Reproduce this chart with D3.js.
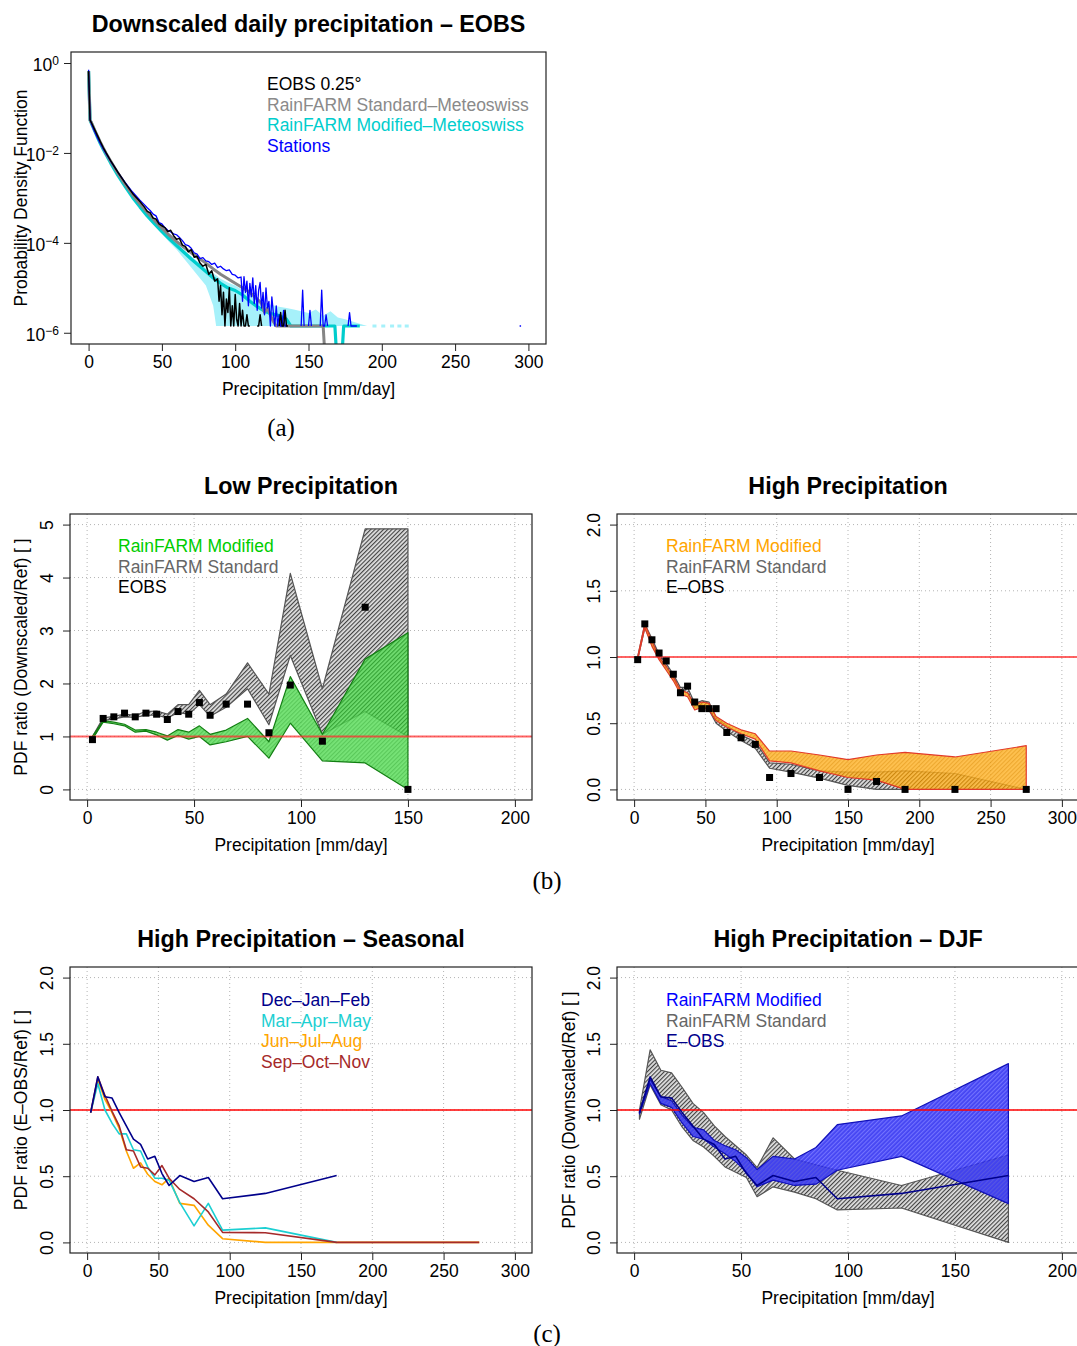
<!DOCTYPE html>
<html>
<head>
<meta charset="utf-8">
<script src="https://cdn.jsdelivr.net/npm/d3@7"></script>
<style>
  body { margin: 0; background: #fff; }
  svg text { font-family: "Liberation Sans", Arial, Helvetica, sans-serif; }
</style>
</head>
<body>
<div id="figure"></div>
<script>
'use strict';

// ---------------- (a) daily precipitation PDF, log10 values ----------------
const eobsX = [0,1,2,4,6,8,10,12,15,20,25,30,35,38,40,42,44,46,48,50,52,54,56,58,60,62,64,66,68,70,72,74,76,78,80,82,84,86,88,
  89,90,91,92,93,94,95,96,97,98,99,100,101,102,103,104,105,106,107,108,109,110,111,115,116,117,118,119,130,131,132,133,134,135,136];
const eobsLog = [-0.18,-1.27,-1.33,-1.47,-1.61,-1.75,-1.88,-2.00,-2.17,-2.43,-2.67,-2.90,-3.08,-3.20,-3.30,-3.33,-3.45,-3.47,-3.58,-3.62,
  -3.66,-3.75,-3.72,-3.84,-3.92,-3.90,-4.05,-4.08,-4.20,-4.15,-4.32,-4.30,-4.45,-4.52,-4.48,-4.70,-4.62,-4.85,-4.80,
  -5.30,-4.95,-5.60,-5.10,-5.85,-5.25,-5.55,-5.00,-5.85,-5.40,-5.85,-5.15,-5.70,-5.85,-5.35,-5.85,-5.50,-5.85,-5.85,-5.60,-5.85,-5.85,null,
  -5.85,-5.85,-5.60,-5.85,null,-5.85,-5.55,-5.85,-5.85,-5.50,-5.85,-5.85];

const stationX = [0,1,2,4,6,8,10,12,15,20,25,30,35,38,40,42,44,46,48,50,52,54,56,58,60,62,64,66,68,70,72,74,76,78,80,82,84,86,88,90,
  92,94,96,98,100,102,104,105,106,107,108,109,110,111,112,113,114,115,116,117,118,119,120,121,122,123,124,125,126,127,128,129,130,
  131,132,133,134,135,136,145,146,147,148,150,151,152,153,158,159,160,161,162,163,164,177,178,179,180,181,182,183,184,294,295];
const stationLog = [-0.15,-1.25,-1.36,-1.52,-1.66,-1.79,-1.91,-2.02,-2.18,-2.43,-2.66,-2.87,-3.05,-3.15,-3.22,-3.28,-3.36,-3.40,-3.55,-3.58,
  -3.66,-3.72,-3.76,-3.80,-3.82,-3.88,-3.95,-4.04,-4.06,-4.12,-4.22,-4.25,-4.35,-4.33,-4.40,-4.42,-4.48,-4.45,-4.55,-4.52,
  -4.58,-4.62,-4.60,-4.70,-4.72,-4.78,-4.76,-5.30,-4.75,-5.10,-4.85,-5.40,-4.90,-5.20,-4.78,-5.35,-4.95,-5.50,-5.05,-4.88,-5.45,-5.10,
  -5.60,-5.00,-5.45,-5.30,-5.85,-5.20,-5.55,-5.85,-5.40,-5.85,-5.60,-5.85,-5.85,-5.50,-5.85,-5.85,null,-5.85,-5.05,-5.85,null,
  -5.85,-5.50,-5.85,null,-5.85,-5.05,-5.85,-5.85,-5.60,-5.85,null,-5.85,-5.55,-5.85,-5.85,-5.85,-5.85,-5.85,null,-5.85,-5.85];

const standardX = [0,1,2,4,6,8,10,12,15,20,25,30,35,40,45,50,55,60,65,70,75,80,85,90,95,100,105,110,115,118,120,122,124,126,128,
  135,140,145,150,155,160,161];
const standardLog = [-0.18,-1.27,-1.33,-1.48,-1.62,-1.76,-1.89,-2.01,-2.18,-2.45,-2.70,-2.93,-3.13,-3.32,-3.50,-3.67,-3.83,-3.97,
  -4.10,-4.22,-4.34,-4.45,-4.58,-4.70,-4.80,-4.90,-5.00,-5.10,-5.25,-5.35,-5.55,-5.45,-5.60,-5.75,-5.85,-5.85,-5.85,-5.85,-5.85,
  -5.85,-5.85,-6.40];

const modifiedX = [0,1,2,4,6,8,10,12,15,20,25,30,35,40,45,50,55,60,65,70,75,80,85,90,95,100,105,110,115,120,125,130,135,138,145,
  150,155,160,165,168,169,173,174,180,185];
const modifiedLog = [-0.18,-1.27,-1.35,-1.50,-1.65,-1.79,-1.92,-2.04,-2.22,-2.50,-2.75,-2.99,-3.20,-3.40,-3.58,-3.75,-3.91,-4.06,
  -4.21,-4.36,-4.50,-4.64,-4.78,-4.90,-5.00,-5.06,-5.16,-5.30,-5.42,-5.52,-5.58,-5.62,-5.70,-5.85,-5.85,-5.85,-5.85,-5.85,-5.85,
  -5.85,-6.40,-6.40,-5.85,-5.85,-5.85];

// ensemble range of the modified run
const rangeX = [50,55,60,65,70,75,80,85,87,90,95,100,105,110,115,120,125,130,135,140,145,150,155,160,165,170,175,180,185,190];
const rangeHi = [-3.72,-3.88,-4.02,-4.16,-4.30,-4.43,-4.56,-4.68,-4.72,-4.80,-4.88,-4.95,-5.05,-5.15,-5.25,-5.33,-5.38,-5.42,-5.45,
  -5.48,-5.52,-5.56,-5.48,-5.62,-5.52,-5.66,-5.70,-5.75,-5.80,-5.85];
const rangeLo = [-3.80,-3.98,-4.15,-4.35,-4.55,-4.75,-4.95,-5.40,-5.85,-5.85,-5.85,-5.85,-5.85,-5.85,-5.85,-5.85,-5.85,-5.85,-5.85,
  -5.85,-5.85,-5.85,-5.85,-5.85,-5.85,-5.85,-5.85,-5.85,-5.85,-5.85];
const rangeDotsX = [195, 201, 207, 212, 217];
const floorLog = -5.85;

// ---------------- (b) low precipitation ----------------
const lowBins = [2.5,7.5,12.5,17.5,22.5,27.5,32.5,37.5,42.5,47.5,52.5,57.5,65,75,85,95,110,130,150];
const lowEobs = [0.94,1.34,1.37,1.44,1.37,1.44,1.42,1.32,1.47,1.42,1.64,1.40,1.61,1.61,1.07,1.97,0.91,3.44,0.0];
const lowStdLo = [0.95,1.30,1.33,1.37,1.36,1.40,1.40,1.35,1.45,1.42,1.60,1.38,1.55,1.90,1.22,2.53,1.04,1.47,1.00];
const lowStdHi = [1.00,1.35,1.38,1.42,1.40,1.47,1.48,1.42,1.60,1.60,1.87,1.60,1.80,2.39,1.80,4.08,1.90,4.92,4.92];
const lowModLo = [0.95,1.27,1.24,1.20,1.08,1.10,1.03,0.93,1.02,0.95,1.00,0.84,0.90,1.00,0.59,1.25,0.54,0.50,0.00];
const lowModHi = [1.00,1.30,1.27,1.23,1.12,1.13,1.08,1.01,1.13,1.08,1.20,1.04,1.12,1.34,0.90,2.13,1.04,2.46,2.96];

// ---------------- (b) high precipitation ----------------
const highBins = [2.5,7.5,12.5,17.5,22.5,27.5,32.5,37.5,42.5,47.5,52.5,57.5,65,75,85,95,110,130,150,170,190,225,275];
const highEobs = [0.98,1.25,1.13,1.03,0.97,0.87,0.73,0.78,0.66,0.61,0.61,0.61,0.43,0.39,0.34,0.09,0.12,0.09,0.0,0.06,0.0,0.0,0.0];
const highModLo = [0.98,1.22,1.08,0.98,0.90,0.82,0.72,0.70,0.60,0.62,0.60,0.52,0.47,0.42,0.38,0.215,0.20,0.14,0.09,0.07,0.0,0.0,0.0];
const highModHi = [1.00,1.25,1.12,1.00,0.93,0.85,0.75,0.73,0.64,0.66,0.65,0.55,0.50,0.45,0.42,0.29,0.29,0.26,0.225,0.26,0.28,0.245,0.33];
const highStdLo = [0.98,1.22,1.10,0.99,0.92,0.84,0.74,0.73,0.62,0.64,0.60,0.50,0.44,0.37,0.31,0.16,0.13,0.085,0.03,0.0,0.0,0.0,0.0];
const highStdHi = [1.00,1.25,1.14,1.02,0.95,0.87,0.77,0.77,0.65,0.67,0.66,0.54,0.48,0.41,0.36,0.20,0.19,0.14,0.13,0.13,0.14,0.12,0.0];

// ---------------- (c) seasonal ----------------
const seasBins = [2.5,7.5,12.5,17.5,22.5,27.5,32.5,37.5,42.5,47.5,52.5,57.5,65,75,85,95,125,175,275];
const djf = [0.98,1.25,1.10,1.09,0.98,0.88,0.78,0.74,0.63,0.65,0.52,0.43,0.505,0.46,0.49,0.33,0.37,0.505];
const mam = [0.98,1.20,1.00,0.90,0.82,0.82,0.70,0.69,0.57,0.485,0.485,0.47,0.30,0.125,0.295,0.093,0.11,0.0];
const jja = [0.98,1.23,1.08,0.98,0.86,0.69,0.56,0.60,0.515,0.46,0.435,0.485,0.295,0.28,0.13,0.028,0.0,0.0,0.0];
const son = [0.98,1.25,1.11,0.99,0.88,0.70,0.69,0.57,0.56,0.51,0.58,0.485,0.40,0.33,0.23,0.076,0.073,0.0,0.0];

// ---------------- (c) DJF ----------------
const djfModLo = [0.97,1.20,1.05,1.02,0.90,0.80,0.78,0.72,0.67,0.61,0.53,0.42,0.47,0.43,0.44,0.545,0.65,0.293];
const djfModHi = [0.99,1.23,1.10,1.07,0.96,0.87,0.85,0.77,0.73,0.70,0.64,0.55,0.65,0.63,0.717,0.89,0.955,1.35];
const djfStdLo = [0.93,1.19,1.04,1.00,0.87,0.77,0.72,0.65,0.57,0.53,0.49,0.345,0.42,0.38,0.33,0.245,0.26,0.0];
const djfStdHi = [1.00,1.455,1.30,1.28,1.17,1.05,0.98,0.88,0.80,0.73,0.66,0.565,0.79,0.63,0.585,0.545,0.43,0.66];

const ticks300 = [0, 50, 100, 150, 200, 250, 300];
const ticks200 = [0, 50, 100, 150, 200];

const FONT = 17.5;

const svg = d3.select('#figure').append('svg')
  .attr('width', 1077).attr('height', 1346);
const defs = svg.append('defs');

function hatch(id, bg, fg, gap) {
  const p = defs.append('pattern').attr('id', id)
    .attr('patternUnits', 'userSpaceOnUse')
    .attr('width', gap).attr('height', gap)
    .attr('patternTransform', 'rotate(45)');
  p.append('rect').attr('width', gap).attr('height', gap).attr('fill', bg);
  p.append('line').attr('x1', 0.6).attr('y1', 0).attr('x2', 0.6).attr('y2', gap)
    .attr('stroke', fg).attr('stroke-width', 1.1);
}
hatch('h-gray', '#e2e2e2', '#3a3a3a', 3);
hatch('h-green', '#55dd55', '#2fb82f', 3);
hatch('h-orange', '#ffb42a', '#e89400', 3);
hatch('h-blue', '#2424f0', '#5c5cff', 3);

class Panel {
  constructor(opt) {
    Object.assign(this, opt);
    this.x = d3.scaleLinear().domain(this.xDomain).range([this.left, this.right]);
    this.y = (this.log ? d3.scaleLog() : d3.scaleLinear())
      .domain(this.yDomain).range([this.bottom, this.top]);
    this.g = svg.append('g');
    defs.append('clipPath').attr('id', 'clip-' + this.id)
      .append('rect')
        .attr('x', this.left).attr('y', this.top)
        .attr('width', this.right - this.left).attr('height', this.bottom - this.top);
    this.grid = this.g.append('g');
    this.plot = this.g.append('g').attr('clip-path', `url(#clip-${this.id})`);
  }

  drawGrid() {
    this.grid.selectAll('.vx').data(this.xTicks).enter().append('line')
      .attr('x1', (d) => this.x(d)).attr('x2', (d) => this.x(d))
      .attr('y1', this.top).attr('y2', this.bottom);
    this.grid.selectAll('.hy').data(this.yTicks).enter().append('line')
      .attr('y1', (d) => this.y(d)).attr('y2', (d) => this.y(d))
      .attr('x1', this.left).attr('x2', this.right);
    this.grid.selectAll('line')
      .attr('stroke', '#b4b4b4').attr('stroke-width', 1).attr('stroke-dasharray', '1,3');
  }

  drawAxes() {
    const xAxis = this.g.append('g')
      .attr('transform', `translate(0,${this.bottom})`)
      .call(d3.axisBottom(this.x).tickValues(this.xTicks).tickSize(7).tickPadding(5));
    const yAxis = this.g.append('g')
      .attr('transform', `translate(${this.left},0)`)
      .call(d3.axisLeft(this.y).tickValues(this.yTicks).tickSize(7)
        .tickFormat(this.yFormat || ((d) => String(d))));
    [xAxis, yAxis].forEach((a) => {
      a.select('.domain').remove();
      a.selectAll('line').attr('stroke', '#222');
      a.selectAll('text').attr('font-size', FONT).attr('fill', '#000');
    });
    if (this.log) {
      yAxis.selectAll('text').each(function (d) {
        const t = d3.select(this).text('').attr('x', -12).attr('dy', '0.45em');
        t.append('tspan').text('10');
        t.append('tspan').attr('font-size', 12).attr('dy', '-0.55em')
          .text(String(Math.round(Math.log10(d))).replace('-', '\u2212'));
      });
    } else {
      yAxis.selectAll('text')
        .attr('x', null).attr('dy', null).attr('text-anchor', 'middle')
        .attr('transform', 'translate(-17,0) rotate(-90)');
    }
    this.g.append('rect')
      .attr('x', this.left).attr('y', this.top)
      .attr('width', this.right - this.left).attr('height', this.bottom - this.top)
      .attr('fill', 'none').attr('stroke', '#222').attr('stroke-width', 1.2);
  }

  drawTexts() {
    const cx = (this.left + this.right) / 2;
    const cy = (this.top + this.bottom) / 2;
    this.g.append('text').attr('x', cx).attr('y', this.top - 20)
      .attr('text-anchor', 'middle').attr('font-size', 23.3).attr('font-weight', 'bold')
      .text(this.title);
    this.g.append('text').attr('x', cx).attr('y', this.bottom + 51)
      .attr('text-anchor', 'middle').attr('font-size', FONT)
      .text('Precipitation [mm/day]');
    if (this.yTitle) {
      this.g.append('text')
        .attr('transform', `translate(${this.yTitleX},${cy}) rotate(-90)`)
        .attr('text-anchor', 'middle').attr('dy', '0.35em').attr('font-size', FONT)
        .text(this.yTitle);
    }
    this.g.selectAll('.legend').data(this.legend).enter().append('text')
      .attr('x', this.legendX)
      .attr('y', (d, i) => this.legendY + i * 20.6)
      .attr('dy', '0.35em').attr('font-size', FONT)
      .attr('fill', (d) => d.color)
      .text((d) => d.label);
  }

  band(bins, lo, hi, fill, stroke, opacity) {
    const rows = bins.slice(0, lo.length).map((b, i) => ({ b: b, lo: lo[i], hi: hi[i] }));
    const area = d3.area().x((d) => this.x(d.b))
      .y0((d) => this.y(d.lo)).y1((d) => this.y(d.hi));
    this.plot.append('path').datum(rows)
      .attr('d', area).attr('fill', fill).attr('fill-opacity', opacity)
      .attr('stroke', stroke).attr('stroke-width', 1.2).attr('stroke-linejoin', 'round');
  }

  line(bins, vals, color, width) {
    const rows = vals.map((v, i) => [bins[i], v]);
    const line = d3.line().x((d) => this.x(d[0])).y((d) => this.y(d[1]));
    this.plot.append('path').datum(rows)
      .attr('d', line).attr('fill', 'none')
      .attr('stroke', color).attr('stroke-width', width).attr('stroke-linejoin', 'round');
  }

  refLine(color, width, opacity) {
    const line = d3.line().x((d) => this.x(d)).y(() => this.y(1));
    this.plot.append('path').datum(this.xDomain)
      .attr('d', line).attr('stroke', color).attr('stroke-width', width)
      .attr('stroke-opacity', opacity);
  }

  squares(bins, vals) {
    this.plot.selectAll('.pt').data(vals).enter().append('rect')
      .attr('x', (d, i) => this.x(bins[i]) - 3.5)
      .attr('y', (d) => this.y(d) - 3.5)
      .attr('width', 7).attr('height', 7).attr('fill', '#000');
  }
}

// ---------------- panel (a) ----------------
const pA = new Panel({
  id: 'a', left: 71, right: 546, top: 52, bottom: 344,
  xDomain: [-12, 312], yDomain: [Math.pow(10, -6.25), Math.pow(10, 0.245)], log: true,
  xTicks: ticks300, yTicks: [1e-6, 1e-4, 1e-2, 1],
  title: 'Downscaled daily precipitation \u2013 EOBS',
  yTitle: 'Probability Density Function', yTitleX: 21,
  legendX: 267, legendY: 84,
  legend: [
    { label: 'EOBS 0.25\u00b0', color: '#000' },
    { label: 'RainFARM Standard\u2013Meteoswiss', color: '#8a8a8a' },
    { label: 'RainFARM Modified\u2013Meteoswiss', color: '#00cdcd' },
    { label: 'Stations', color: '#0000ff' }
  ]
});
{
  const px = (d) => pA.x(d[0]);
  const py = (d) => pA.y(Math.pow(10, d[1]));
  const logLine = d3.line().defined((d) => d[1] !== null).x(px).y(py);
  const rows = rangeX.map((b, i) => ({ b: b, lo: rangeLo[i], hi: rangeHi[i] }));
  pA.plot.append('path').datum(rows)
    .attr('d', d3.area().x((d) => pA.x(d.b))
      .y0((d) => pA.y(Math.pow(10, d.lo))).y1((d) => pA.y(Math.pow(10, d.hi))))
    .attr('fill', '#a6f1fa');
  pA.plot.selectAll('.dot').data(rangeDotsX).enter().append('rect')
    .attr('x', (d) => pA.x(d) - 2).attr('y', pA.y(Math.pow(10, floorLog)) - 1.5)
    .attr('width', 4).attr('height', 3).attr('fill', '#a6f1fa');
  const series = [
    { x: modifiedX, y: modifiedLog, color: '#00cdcd', w: 3.2 },
    { x: standardX, y: standardLog, color: '#858585', w: 3 },
    { x: stationX, y: stationLog, color: '#0000ff', w: 1.3 },
    { x: eobsX, y: eobsLog, color: '#000000', w: 1.5 }
  ];
  series.forEach((s) => {
    pA.plot.append('path').datum(s.x.map((b, i) => [b, s.y[i]]))
      .attr('d', logLine).attr('fill', 'none')
      .attr('stroke', s.color).attr('stroke-width', s.w).attr('stroke-linejoin', 'round');
  });
}
pA.drawAxes();
pA.drawTexts();

// ---------------- panel (b) low ----------------
const pBL = new Panel({
  id: 'bl', left: 70, right: 532, top: 514, bottom: 800,
  xDomain: [-8, 208], yDomain: [-0.2, 5.2],
  xTicks: ticks200, yTicks: [0, 1, 2, 3, 4, 5],
  title: 'Low Precipitation',
  yTitle: 'PDF ratio (Downscaled/Ref) [ ]', yTitleX: 21,
  legendX: 118, legendY: 546,
  legend: [
    { label: 'RainFARM Modified', color: '#00cd00' },
    { label: 'RainFARM Standard', color: '#666666' },
    { label: 'EOBS', color: '#000' }
  ]
});
pBL.drawGrid();
pBL.band(lowBins, lowStdLo, lowStdHi, 'url(#h-gray)', '#555', 1);
pBL.band(lowBins, lowModLo, lowModHi, 'url(#h-green)', '#137f13', 0.8);
pBL.refLine('#ff3030', 2, 0.75);
pBL.squares(lowBins, lowEobs);
pBL.drawAxes();
pBL.drawTexts();

// ---------------- panel (b) high ----------------
const pBR = new Panel({
  id: 'br', left: 617, right: 1079, top: 514, bottom: 800,
  xDomain: [-12, 312], yDomain: [-0.08, 2.08],
  xTicks: ticks300, yTicks: [0, 0.5, 1, 1.5, 2],
  yFormat: d3.format('.1f'),
  title: 'High Precipitation',
  legendX: 666, legendY: 546,
  legend: [
    { label: 'RainFARM Modified', color: '#ffa500' },
    { label: 'RainFARM Standard', color: '#666666' },
    { label: 'E\u2013OBS', color: '#000' }
  ]
});
pBR.drawGrid();
pBR.band(highBins, highStdLo, highStdHi, 'url(#h-gray)', '#555', 1);
pBR.band(highBins, highModLo, highModHi, 'url(#h-orange)', '#e23a2a', 0.82);
pBR.refLine('#ff3030', 2, 0.75);
pBR.squares(highBins, highEobs);
pBR.drawAxes();
pBR.drawTexts();

// ---------------- panel (c) seasonal ----------------
const pCL = new Panel({
  id: 'cl', left: 70, right: 532, top: 967, bottom: 1253,
  xDomain: [-12, 312], yDomain: [-0.08, 2.08],
  xTicks: ticks300, yTicks: [0, 0.5, 1, 1.5, 2],
  yFormat: d3.format('.1f'),
  title: 'High Precipitation \u2013 Seasonal',
  yTitle: 'PDF ratio (E\u2013OBS/Ref) [ ]', yTitleX: 21,
  legendX: 261, legendY: 1000,
  legend: [
    { label: 'Dec\u2013Jan\u2013Feb', color: '#00008b' },
    { label: 'Mar\u2013Apr\u2013May', color: '#1ccfd2' },
    { label: 'Jun\u2013Jul\u2013Aug', color: '#ffa500' },
    { label: 'Sep\u2013Oct\u2013Nov', color: '#a52a2a' }
  ]
});
pCL.drawGrid();
pCL.refLine('#ff0000', 1.3, 1);
pCL.line(seasBins, jja, '#ffa500', 1.6);
pCL.line(seasBins, mam, '#1ccfd2', 1.6);
pCL.line(seasBins, son, '#a52a2a', 1.6);
pCL.line(seasBins, djf, '#00008b', 1.6);
pCL.drawAxes();
pCL.drawTexts();

// ---------------- panel (c) DJF ----------------
const pCR = new Panel({
  id: 'cr', left: 617, right: 1079, top: 967, bottom: 1253,
  xDomain: [-8, 208], yDomain: [-0.08, 2.08],
  xTicks: ticks200, yTicks: [0, 0.5, 1, 1.5, 2],
  yFormat: d3.format('.1f'),
  title: 'High Precipitation \u2013 DJF',
  yTitle: 'PDF ratio (Downscaled/Ref) [ ]', yTitleX: 569,
  legendX: 666, legendY: 1000,
  legend: [
    { label: 'RainFARM Modified', color: '#0000ff' },
    { label: 'RainFARM Standard', color: '#666666' },
    { label: 'E\u2013OBS', color: '#00008b' }
  ]
});
pCR.drawGrid();
pCR.band(seasBins, djfStdLo, djfStdHi, 'url(#h-gray)', '#555', 1);
pCR.band(seasBins, djfModLo, djfModHi, 'url(#h-blue)', '#1010b8', 0.85);
pCR.refLine('#ff0000', 1.3, 1);
pCR.line(seasBins, djf, '#00008b', 1.6);
pCR.drawAxes();
pCR.drawTexts();

// ---------------- sub-figure labels ----------------
svg.selectAll('.sub').data([
  { t: '(a)', x: 281, y: 436 },
  { t: '(b)', x: 547, y: 889 },
  { t: '(c)', x: 547, y: 1342 }
]).enter().append('text')
  .attr('x', (d) => d.x).attr('y', (d) => d.y)
  .attr('text-anchor', 'middle')
  .style('font-family', '"Liberation Serif", "DejaVu Serif", serif')
  .attr('font-size', 25)
  .text((d) => d.t);
</script>
</body>
</html>
